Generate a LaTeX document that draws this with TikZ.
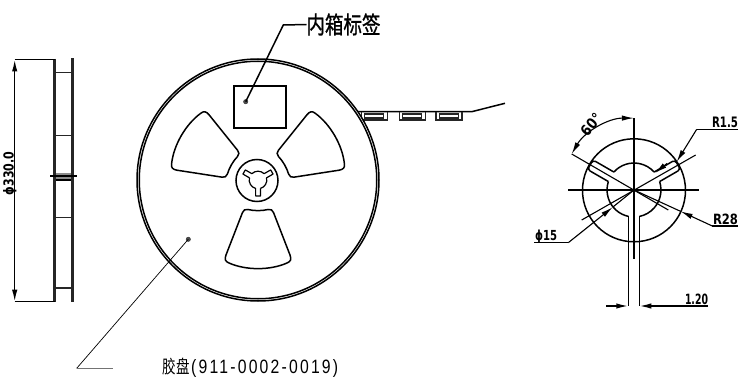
\documentclass[tikz,border=0pt]{standalone}
\usepackage{graphicx}
\usepackage{fontspec}
\setmainfont{Liberation Sans}
\newfontfamily\cjk{Noto Sans CJK SC}
\newfontfamily\dimfont{DejaVu Sans}
\usetikzlibrary{arrows.meta}
\newcommand{\fitbox}[3]{\resizebox*{#1pt}{#2pt}{#3}}
\newcommand{\dimbox}[3]{\resizebox{#1pt}{#2pt}{\dimfont\bfseries #3}}
\tikzset{
  thick line/.style={line width=1.5pt,black},
  thin line/.style={line width=1.1pt,black},
  hair line/.style={line width=0.7pt,black},
  dim tip/.style={-{Latex[length=12pt,width=5.4pt]}},
  dim tips/.style={{Latex[length=12pt,width=5.4pt]}-{Latex[length=12pt,width=5.4pt]}},
  txt/.style={inner sep=0pt,outer sep=0pt,text=black},
  dotmark/.style={circle,fill=black!70,draw=black!80,inner sep=0pt,minimum size=4.4pt},
}
\begin{document}
\begin{tikzpicture}[x=1pt,y=-1pt]
\useasboundingbox (0,0) rectangle (740,377);
\fill[white] (0,0) rectangle (740,377);

% ---- side view
\draw[line width=3pt,black!85] (54.7,59) -- (54.7,302);
\draw[line width=3pt,black!85] (72.6,58.5) -- (72.6,302);
\foreach \yy in {72.7,135.7,217.7,288}{\draw[thin line,black!85] (56,\yy) -- (71,\yy);}
\fill[black!45] (56,173) rectangle (71,180);
\draw[thin line] (56,180) -- (71,180);
\coordinate (sideL) at (50,176);
\coordinate (sideR) at (77,176);
\draw[thin line] (sideL) -- (sideR);
\coordinate (dimT) at (14.7,59.5);
\coordinate (dimB) at (14.7,301.7);
\coordinate (flT) at (55,59.5);
\coordinate (flB) at (55,301.7);
\draw[thick line] (dimT) -- (flT);
\draw[thick line] (dimB) -- (flB);
\draw[thick line,dim tips] (dimT) -- (dimB);
\node[txt,rotate=90,anchor=base] (d330) at (13.5,173.5) {\dimbox{43.5}{10.5}{ϕ330.0}};

% ---- carrier tape
\coordinate (tapeA) at (356,111.7);
\coordinate (tapeB) at (471.7,111.7);
\coordinate (tapeC) at (505,103.3);
\draw[thick line] (tapeA) -- (tapeB) -- (tapeC);
\foreach \px in {361.5,399.3,436}{
  \draw[thick line,black!85] (\px,111.7) -- ++(0,8.3) -- ++(26,0) -- ++(0,-8.3);
  \draw[thin line,black!85] (\px+3.4,114) rectangle ++(19,4);
}

% ---- reel
\node[circle,draw,fill=white,line width=1.5pt,inner sep=0pt,minimum size=242pt] (reel) at (258,180) {};
\node[circle,draw,line width=1.5pt,inner sep=0pt,minimum size=237.5pt] (reelin) at (258,180) {};
\node[draw,thick line,inner sep=0pt,minimum width=52pt,minimum height=42pt] (lbl) at (260,107) {};
\foreach \rr in {0,120,240}{
  \begin{scope}[shift={(258,180)},rotate=\rr]
    \draw[thick line]
      (-10,29.5) .. controls (-4,31) and (4,31) .. (10,29.5)
      .. controls (13,29) and (14.5,30) .. (15.5,32.5)
      -- (32,75)
      .. controls (33.5,79) and (33,81.5) .. (29,83)
      .. controls (12,90.5) and (-12,90.5) .. (-29,83)
      .. controls (-33,81.5) and (-33.5,79) .. (-32,75)
      -- (-15.5,32.5)
      .. controls (-14.5,30) and (-13,29) .. (-10,29.5) -- cycle;
  \end{scope}
}
\node[circle,draw,thick line,inner sep=0pt,minimum size=42pt] (hub) at (257,180.5) {};
\foreach \rr in {0,120,240}{
  \begin{scope}[shift={(258,180)},rotate=\rr]
    \draw[line width=1.2pt,line join=round]
      (2.4,8.47) -- (2.4,16) -- (-2.4,16) -- (-2.4,8.47)
      arc[start angle=105.8,end angle=194.2,radius=8.8];
  \end{scope}
}

% ---- leaders on the reel
\node[dotmark] (dotA) at (245.7,101.7) {};
\coordinate (kneeA) at (283.3,25);
\node[txt,anchor=west] (inbox) at (306.5,24.5) {\fitbox{74}{22}{\cjk\addfontfeature{FakeBold=1.2}内箱标签}};
\draw[thick line] (dotA.center) -- (kneeA) -- (inbox.west);
\node[dotmark] (dotB) at (188.3,239.3) {};
\coordinate (kneeB) at (76.7,368.3);
\coordinate (tailB) at (113.3,368.3);
\draw[hair line] (dotB.center) -- (kneeB);
\draw[line width=0.9pt,black!55] (kneeB) -- (tailB);
\node[txt,anchor=west] (reelname) at (162.7,367.5) {\fitbox{27}{17}{\cjk 胶盘}\kern1.5pt\fitbox{147}{18}{\addfontfeature{LetterSpace=14}(911-0002-0019)}};

% ---- right detail
\node[circle,draw,thick line,inner sep=0pt,minimum size=103pt] (outerc) at (634,190.3) {};
\coordinate (c) at (634,190);
\begin{scope}[shift={(634,190)}]
  \foreach \rr in {0,120,240}{
    \begin{scope}[rotate=\rr]
      \draw[thick line] (-5.5,26.4) arc[start angle=101.8,end angle=198.2,radius=27];
    \end{scope}
  }
  \foreach \rr in {120,240}{
    \begin{scope}[rotate=\rr]
      \draw[thick line,rounded corners=3pt] (-5.5,26.4) -- (-5.5,50.5) -- (5.5,50.5) -- (5.5,26.4);
    \end{scope}
  }
\end{scope}
\coordinate (extL) at (628.3,306);
\coordinate (extR) at (639.3,306);
\draw[line width=1.6pt] (628.3,216.4) -- (extL);
\draw[line width=1.6pt] (639.3,216.4) -- (extR);
% centre lines
\coordinate (hL) at (568.3,190);
\coordinate (hR) at (699.3,190);
\coordinate (vT) at (634,118.3);
\coordinate (vB) at (634,259.3);
\coordinate (dA) at (571.7,154);
\coordinate (dB) at (668.3,210);
\coordinate (dC) at (581.7,220);
\coordinate (dD) at (695.7,155);
\draw[thin line] (hL) -- (hR);
\draw[thin line] (vT) -- (vB);
\draw[thin line] (dA) -- (dB);
\draw[thin line] (dC) -- (dD);
% 60 degree
\draw[thin line,dim tips] (dA) arc[start angle=210,end angle=270,radius=71.8];
\node[txt,rotate=50] (a60) at (591,124.5) {\dimbox{24}{11}{60°}};
% R1.5
\coordinate (r15a) at (738,129.3);
\coordinate (r15b) at (696.7,129.3);
\coordinate (r15t) at (676.7,161.7);
\draw[thin line] (r15a) -- (r15b);
\draw[thin line,dim tip] (r15b) -- (r15t);
\node[txt,anchor=base west] (tr15) at (712,127.5) {\dimbox{26}{10.5}{R1.5}};
% R28
\coordinate (r28a) at (738,226);
\coordinate (r28b) at (712.3,226);
\coordinate (r28t) at (680.7,211.4);
\draw[thin line] (r28a) -- (r28b);
\draw[thin line,dim tip] (r28b) -- (r28t);
\draw[thin line] (r28t) -- (c);
\node[txt,anchor=base west] (tr28) at (713,224.5) {\dimbox{25}{10.5}{R28}};
% phi 15
\coordinate (p15a) at (534.3,242.7);
\coordinate (p15b) at (568.3,242.7);
\coordinate (p15t) at (612.7,207.2);
\coordinate (p15u) at (655,173);
\coordinate (p15v) at (667,163.5);
\draw[thin line] (p15a) -- (p15b);
\draw[thin line,dim tip] (p15b) -- (p15t);
\draw[thin line] (p15t) -- (c);
\draw[thin line,dim tip] (p15v) -- (p15u);
\node[txt,anchor=base west] (tp15) at (535,241) {\dimbox{22}{10.5}{ϕ15}};
% 1.20
\coordinate (w1) at (606,306);
\coordinate (w2) at (708,306);
\draw[thick line,dim tip] (w1) -- (extL);
\draw[thick line,dim tip] (w2) -- (extR);
\node[txt,anchor=base west] (t120) at (685,304.3) {\dimbox{23}{10.5}{1.20}};
\end{tikzpicture}
\end{document}
